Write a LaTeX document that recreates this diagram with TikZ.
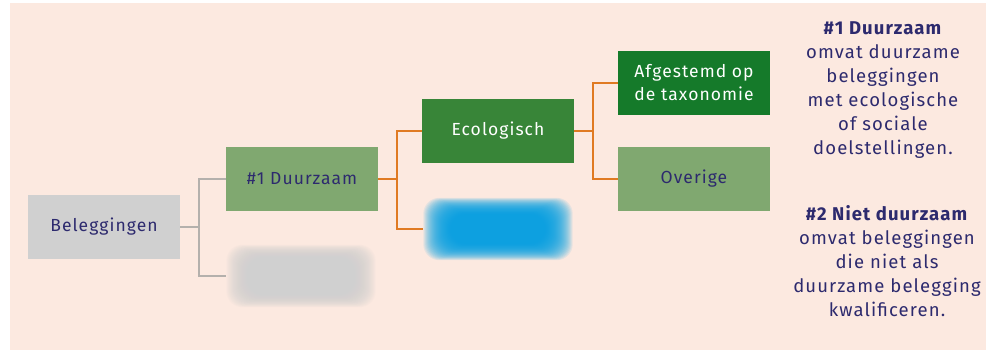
\documentclass[tikz,border=0pt]{standalone}
\usepackage{fontspec}
\setmainfont{Fira Sans}[LetterSpace=6]
\usetikzlibrary{positioning}

\definecolor{achtergrond}{HTML}{FCE9E0}
\definecolor{inkt}{HTML}{2D2A6E}
\definecolor{grijs}{HTML}{D0D0D0}
\definecolor{lichtgroen}{HTML}{80A870}
\definecolor{groen}{HTML}{388538}
\definecolor{donkergroen}{HTML}{157A2A}
\definecolor{oranje}{HTML}{E07A22}
\definecolor{lijngrijs}{HTML}{B4B0AC}
\definecolor{blauw}{HTML}{00A0E0}

\begin{document}
\begin{tikzpicture}[x=1pt, y=-1pt]
\tikzset{box/.style =
        {
            rectangle,
            minimum width=152pt,
            minimum height=64pt,
            inner sep=0pt,
            align=center,
            text=inkt,
            font=\fontsize{17.5}{23}\selectfont
        }
}

\tikzset{wit/.style =
        {
            box,
            text=white
        }
}

\tikzset{vaag/.style =
        {
            rectangle,
            minimum width=149pt,
            minimum height=62pt,
            inner sep=0pt
        }
}

\tikzset{tak/.style =
        {
            line width=2pt,
            lijngrijs
        }
}

\tikzset{ecotak/.style =
        {
            tak,
            oranje
        }
}

\tikzset{uitleg/.style =
        {
            align=center,
            text=inkt,
            font=\fontsize{18.5}{24}\selectfont
        }
}

		\useasboundingbox (0,0) rectangle (986,351);
		\fill[achtergrond] (10,3) rectangle (986,350);

		\node[box, fill=grijs] (bel) at (104,227) {Beleggingen};
		\node[box, fill=lichtgroen] (duurzaam) at (302,179) {\#1 Duurzaam};
		\node[vaag] (niet) at (301,276) {};
		\node[wit, fill=groen] (ecol) at (498,131) {Ecologisch};
		\node[vaag] (sociaal) at (498,229) {};
		\node[wit, fill=donkergroen] (taxo) at (694,83) {Afgestemd op\\de taxonomie};
		\node[box, fill=lichtgroen] (overige) at (694,179) {Overige};

		% vervaagde vakken
		\foreach \n / \c in
			{niet/grijs,
				sociaal/blauw}
			\foreach \i in {0,...,27}
			\fill[\c, opacity=0.09, rounded corners=16pt]
			([shift={(\i,0.6*\i)}]\n.north west) rectangle ([shift={(-\i,-0.6*\i)}]\n.south east);

		\foreach \start / \finish / \s in
			{bel/duurzaam/tak,
				bel/niet/tak,
				duurzaam/ecol/ecotak,
				duurzaam/sociaal/ecotak,
				ecol/taxo/ecotak,
				ecol/overige/ecotak}
			\draw [\s] (\start.east) -- ++(19,0) |- (\finish.west);

		\node[uitleg] (uitleg1) at (883,90)
		{\textbf{\#1 Duurzaam}\\omvat duurzame\\beleggingen\\met ecologische\\of sociale\\doelstellingen.};
		\node[uitleg] (uitleg2) at (887,261)
		{\textbf{\#2 Niet duurzaam}\\omvat beleggingen\\die niet als\\duurzame belegging\\kwalificeren.};

	\end{tikzpicture}
\end{document}
